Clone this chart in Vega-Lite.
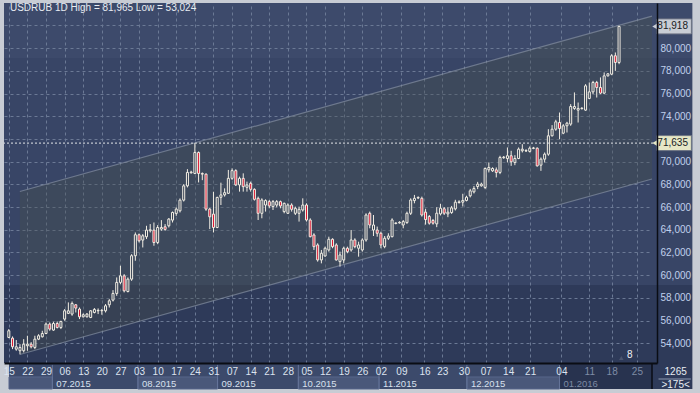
{
  "$schema": "https://vega.github.io/schema/vega-lite/v6.json",
  "width": 653,
  "height": 360,
  "autosize": "none",
  "padding": {"left": 4, "top": 3, "right": 43, "bottom": 30},
  "background": "#c8ccd4",
  "config": {
    "font": "Liberation Sans",
    "view": {
      "stroke": null,
      "fill": {"gradient": "linear", "x1": 0, "y1": 0, "x2": 0, "y2": 1, "stops": [
        {"offset": 0, "color": "#3d4a6b"}, {"offset": 0.153, "color": "#3d4a6b"},
        {"offset": 0.153, "color": "#384566"}, {"offset": 0.783, "color": "#384566"},
        {"offset": 0.783, "color": "#2e3a59"}, {"offset": 1, "color": "#2e3a59"}]}
    }
  },
  "datasets": {
    "candles": [
      {"i":0,"o":54.51,"h":55.25,"l":54.45,"c":55.1},
      {"i":1,"o":54.45,"h":54.6,"l":53.48,"c":53.69},
      {"i":2,"o":53.48,"h":54.28,"l":53.34,"c":53.69},
      {"i":3,"o":53.34,"h":53.92,"l":53.02,"c":53.63},
      {"i":4,"o":53.34,"h":54.36,"l":53.19,"c":53.92},
      {"i":5,"o":53.78,"h":54.66,"l":53.34,"c":53.92},
      {"i":6,"o":53.92,"h":54.1,"l":53.55,"c":53.69},
      {"i":7,"o":53.63,"h":54.66,"l":53.48,"c":54.36},
      {"i":8,"o":54.36,"h":54.8,"l":54.28,"c":54.66},
      {"i":9,"o":54.57,"h":55.1,"l":54.51,"c":54.86},
      {"i":10,"o":54.86,"h":55.83,"l":54.8,"c":55.69},
      {"i":11,"o":55.69,"h":55.83,"l":55.1,"c":55.25},
      {"i":12,"o":55.16,"h":55.89,"l":55.1,"c":55.74},
      {"i":13,"o":55.74,"h":55.92,"l":55.3,"c":55.39},
      {"i":14,"o":55.39,"h":55.98,"l":55.25,"c":55.92},
      {"i":15,"o":56.13,"h":57.01,"l":55.98,"c":56.86},
      {"i":16,"o":56.63,"h":57.6,"l":56.57,"c":56.86},
      {"i":17,"o":56.57,"h":57.68,"l":56.42,"c":57.51},
      {"i":18,"o":57.39,"h":57.45,"l":56.71,"c":57.1},
      {"i":19,"o":57.01,"h":57.15,"l":56.13,"c":56.33},
      {"i":20,"o":56.33,"h":56.63,"l":56.27,"c":56.51},
      {"i":21,"o":56.33,"h":56.66,"l":56.27,"c":56.57},
      {"i":22,"o":56.27,"h":56.92,"l":56.21,"c":56.86},
      {"i":23,"o":56.71,"h":57.1,"l":56.63,"c":56.98},
      {"i":24,"o":56.86,"h":57.07,"l":56.57,"c":56.9},
      {"i":25,"o":56.86,"h":57.01,"l":56.51,"c":56.9},
      {"i":26,"o":56.86,"h":57.45,"l":56.71,"c":57.3},
      {"i":27,"o":57.39,"h":57.89,"l":57.15,"c":57.74},
      {"i":28,"o":57.8,"h":58.68,"l":57.68,"c":58.39},
      {"i":29,"o":58.39,"h":59.8,"l":58.18,"c":59.36},
      {"i":30,"o":59.36,"h":60.83,"l":59.21,"c":59.94},
      {"i":31,"o":59.94,"h":60.09,"l":58.48,"c":58.62},
      {"i":32,"o":58.56,"h":59.8,"l":58.48,"c":59.65},
      {"i":33,"o":59.65,"h":61.85,"l":59.5,"c":61.71},
      {"i":34,"o":61.71,"h":63.76,"l":61.27,"c":63.56},
      {"i":35,"o":63.56,"h":63.67,"l":62.88,"c":63.03},
      {"i":36,"o":63.09,"h":63.62,"l":62.44,"c":63.47},
      {"i":37,"o":63.38,"h":64.35,"l":63.18,"c":63.97},
      {"i":38,"o":63.91,"h":64.5,"l":63.76,"c":64.0},
      {"i":39,"o":63.97,"h":64.64,"l":62.59,"c":62.88},
      {"i":40,"o":62.88,"h":64.41,"l":62.73,"c":64.2},
      {"i":41,"o":64.06,"h":64.85,"l":63.91,"c":64.2},
      {"i":42,"o":64.26,"h":64.5,"l":63.91,"c":64.03},
      {"i":43,"o":64.35,"h":65.03,"l":64.2,"c":64.94},
      {"i":44,"o":64.85,"h":65.61,"l":64.64,"c":65.52},
      {"i":45,"o":65.44,"h":65.97,"l":65.23,"c":65.82},
      {"i":46,"o":65.67,"h":66.76,"l":65.52,"c":66.61},
      {"i":47,"o":66.61,"h":68.02,"l":66.49,"c":67.87},
      {"i":48,"o":67.87,"h":69.34,"l":67.73,"c":69.05},
      {"i":49,"o":69.02,"h":69.2,"l":68.95,"c":69.08},
      {"i":50,"o":68.96,"h":71.635,"l":68.9,"c":70.81},
      {"i":51,"o":70.81,"h":70.9,"l":68.17,"c":68.96},
      {"i":52,"o":68.96,"h":69.05,"l":68.37,"c":68.9},
      {"i":53,"o":68.9,"h":68.96,"l":65.67,"c":65.82},
      {"i":54,"o":65.82,"h":65.91,"l":64.06,"c":65.14},
      {"i":55,"o":65.38,"h":67.35,"l":63.76,"c":64.2},
      {"i":56,"o":64.2,"h":66.91,"l":64.14,"c":66.85},
      {"i":57,"o":66.86,"h":68.15,"l":66.18,"c":67.07},
      {"i":58,"o":67.07,"h":67.65,"l":66.92,"c":67.27},
      {"i":59,"o":67.21,"h":69.27,"l":67.15,"c":68.53},
      {"i":60,"o":68.53,"h":69.41,"l":68.39,"c":69.21},
      {"i":61,"o":69.21,"h":69.33,"l":67.86,"c":67.95},
      {"i":62,"o":67.95,"h":68.68,"l":67.36,"c":68.53},
      {"i":63,"o":68.53,"h":68.97,"l":67.36,"c":67.8},
      {"i":64,"o":67.74,"h":68.24,"l":67.36,"c":67.95},
      {"i":65,"o":68.09,"h":68.24,"l":67.36,"c":67.56},
      {"i":66,"o":67.56,"h":67.65,"l":66.57,"c":66.68},
      {"i":67,"o":66.77,"h":66.92,"l":64.86,"c":65.45},
      {"i":68,"o":65.45,"h":66.77,"l":65.01,"c":66.62},
      {"i":69,"o":66.18,"h":66.68,"l":65.6,"c":66.57},
      {"i":70,"o":66.48,"h":66.62,"l":65.89,"c":66.1},
      {"i":71,"o":66.04,"h":66.62,"l":65.74,"c":66.48},
      {"i":72,"o":66.18,"h":66.62,"l":65.98,"c":66.48},
      {"i":73,"o":66.48,"h":66.57,"l":65.89,"c":66.1},
      {"i":74,"o":65.6,"h":66.39,"l":65.45,"c":66.33},
      {"i":75,"o":65.45,"h":66.33,"l":65.39,"c":66.18},
      {"i":76,"o":66.18,"h":66.33,"l":65.6,"c":65.8},
      {"i":77,"o":65.45,"h":66.04,"l":65.3,"c":65.89},
      {"i":78,"o":65.45,"h":66.04,"l":64.72,"c":65.8},
      {"i":79,"o":65.74,"h":66.77,"l":65.6,"c":66.18},
      {"i":80,"o":66.18,"h":66.33,"l":64.72,"c":64.86},
      {"i":81,"o":64.86,"h":65.01,"l":63.33,"c":63.39},
      {"i":82,"o":63.54,"h":63.69,"l":62.22,"c":62.51},
      {"i":83,"o":62.66,"h":62.81,"l":61.19,"c":61.34},
      {"i":84,"o":61.34,"h":62.22,"l":61.04,"c":61.93},
      {"i":85,"o":61.69,"h":62.51,"l":61.63,"c":62.37},
      {"i":86,"o":62.22,"h":63.39,"l":62.07,"c":63.16},
      {"i":87,"o":63.16,"h":63.25,"l":62.37,"c":62.51},
      {"i":88,"o":62.66,"h":62.81,"l":61.28,"c":61.34},
      {"i":89,"o":61.19,"h":62.07,"l":60.75,"c":61.78},
      {"i":90,"o":61.34,"h":62.51,"l":61.04,"c":62.37},
      {"i":91,"o":62.37,"h":62.51,"l":61.93,"c":62.07},
      {"i":92,"o":62.22,"h":63.98,"l":62.07,"c":63.1},
      {"i":93,"o":63.1,"h":63.25,"l":62.37,"c":62.51},
      {"i":94,"o":62.37,"h":62.95,"l":61.63,"c":62.66},
      {"i":95,"o":62.22,"h":63.25,"l":62.07,"c":63.1},
      {"i":96,"o":63.1,"h":65.45,"l":62.95,"c":65.3},
      {"i":97,"o":65.45,"h":65.6,"l":64.13,"c":64.42},
      {"i":98,"o":63.98,"h":65.3,"l":63.45,"c":64.42},
      {"i":99,"o":63.98,"h":64.28,"l":63.39,"c":63.69},
      {"i":100,"o":63.69,"h":63.83,"l":62.37,"c":62.66},
      {"i":101,"o":62.51,"h":63.45,"l":62.37,"c":63.25},
      {"i":102,"o":63.25,"h":63.69,"l":63.1,"c":63.45},
      {"i":103,"o":63.39,"h":65.01,"l":63.33,"c":64.86},
      {"i":104,"o":64.55,"h":64.65,"l":64.48,"c":64.6},
      {"i":105,"o":64.6,"h":64.75,"l":64.55,"c":64.66},
      {"i":106,"o":64.42,"h":64.86,"l":64.13,"c":64.72},
      {"i":107,"o":64.63,"h":65.6,"l":64.52,"c":65.45},
      {"i":108,"o":65.45,"h":66.77,"l":65.3,"c":66.62},
      {"i":109,"o":66.57,"h":67.07,"l":66.33,"c":66.77},
      {"i":110,"o":66.8,"h":66.95,"l":66.7,"c":66.84},
      {"i":111,"o":66.77,"h":66.92,"l":65.16,"c":65.3},
      {"i":112,"o":65.55,"h":65.85,"l":64.45,"c":64.9},
      {"i":113,"o":65.17,"h":65.3,"l":64.45,"c":64.58},
      {"i":114,"o":64.82,"h":64.95,"l":64.45,"c":64.58},
      {"i":115,"o":64.52,"h":65.99,"l":64.23,"c":65.46},
      {"i":116,"o":65.4,"h":66.29,"l":65.26,"c":65.9},
      {"i":117,"o":65.85,"h":66.0,"l":65.3,"c":65.46},
      {"i":118,"o":65.4,"h":65.99,"l":65.11,"c":65.55},
      {"i":119,"o":65.52,"h":66.1,"l":65.4,"c":65.93},
      {"i":120,"o":65.84,"h":66.64,"l":65.7,"c":66.43},
      {"i":121,"o":66.4,"h":66.6,"l":66.3,"c":66.46},
      {"i":122,"o":66.43,"h":67.17,"l":66.05,"c":66.58},
      {"i":123,"o":66.58,"h":67.0,"l":66.5,"c":66.87},
      {"i":124,"o":66.99,"h":67.6,"l":66.85,"c":67.43},
      {"i":125,"o":67.34,"h":67.85,"l":67.2,"c":67.64},
      {"i":126,"o":67.81,"h":68.22,"l":67.58,"c":68.02},
      {"i":127,"o":67.87,"h":68.15,"l":67.8,"c":68.02},
      {"i":128,"o":67.73,"h":69.49,"l":67.58,"c":69.4},
      {"i":129,"o":69.28,"h":69.93,"l":69.05,"c":69.49},
      {"i":130,"o":69.19,"h":69.5,"l":69.1,"c":69.4},
      {"i":131,"o":69.28,"h":69.49,"l":68.61,"c":69.05},
      {"i":132,"o":69.05,"h":70.52,"l":68.9,"c":70.37},
      {"i":133,"o":70.35,"h":70.5,"l":70.25,"c":70.4},
      {"i":134,"o":70.28,"h":71.25,"l":69.93,"c":70.52},
      {"i":135,"o":70.52,"h":70.96,"l":69.63,"c":69.99},
      {"i":136,"o":69.93,"h":70.57,"l":69.69,"c":70.28},
      {"i":137,"o":70.28,"h":71.25,"l":70.22,"c":71.1},
      {"i":138,"o":70.96,"h":71.54,"l":70.81,"c":71.1},
      {"i":139,"o":70.94,"h":71.1,"l":70.85,"c":70.98},
      {"i":140,"o":70.9,"h":71.34,"l":70.81,"c":71.19},
      {"i":141,"o":71.17,"h":71.3,"l":71.1,"c":71.21},
      {"i":142,"o":71.19,"h":71.25,"l":69.57,"c":69.63},
      {"i":143,"o":69.69,"h":70.37,"l":69.19,"c":70.22},
      {"i":144,"o":70.22,"h":70.81,"l":69.93,"c":70.66},
      {"i":145,"o":70.66,"h":72.86,"l":70.52,"c":72.28},
      {"i":146,"o":72.28,"h":73.22,"l":72.22,"c":72.86},
      {"i":147,"o":72.86,"h":73.69,"l":72.72,"c":73.51},
      {"i":148,"o":73.45,"h":74.33,"l":71.98,"c":72.92},
      {"i":149,"o":72.51,"h":73.31,"l":72.42,"c":73.16},
      {"i":150,"o":73.16,"h":73.51,"l":72.57,"c":73.39},
      {"i":151,"o":73.31,"h":75.07,"l":73.16,"c":74.86},
      {"i":152,"o":74.69,"h":76.1,"l":74.57,"c":74.86},
      {"i":153,"o":74.54,"h":75.21,"l":73.45,"c":74.69},
      {"i":154,"o":74.67,"h":74.8,"l":74.6,"c":74.71},
      {"i":155,"o":74.54,"h":76.83,"l":74.48,"c":76.68},
      {"i":156,"o":75.57,"h":76.98,"l":75.51,"c":76.15},
      {"i":157,"o":76.15,"h":77.12,"l":75.95,"c":76.98},
      {"i":158,"o":76.98,"h":77.12,"l":75.65,"c":76.54},
      {"i":159,"o":76.54,"h":77.42,"l":75.95,"c":76.04},
      {"i":160,"o":76.04,"h":77.86,"l":75.95,"c":77.56},
      {"i":161,"o":77.56,"h":77.8,"l":77.5,"c":77.74},
      {"i":162,"o":77.71,"h":79.47,"l":77.62,"c":79.33},
      {"i":163,"o":79.33,"h":79.62,"l":78.0,"c":78.74},
      {"i":164,"o":78.74,"h":81.965,"l":78.59,"c":81.918}
    ],
    "months": [
      {"m":"","s0":0.05,"s1":11.7},
      {"m":"07.2015","s0":11.7,"s1":34.7},
      {"m":"08.2015","s0":34.7,"s1":56.1},
      {"m":"09.2015","s0":56.1,"s1":77.8},
      {"m":"10.2015","s0":77.8,"s1":99.5},
      {"m":"11.2015","s0":99.5,"s1":123.1},
      {"m":"12.2015","s0":123.1,"s1":148},
      {"m":"01.2016","s0":148,"s1":172.85}
    ],
    "channel": [
      {"s": 2.96, "lo": 53.01, "hi": 67.37},
      {"s": 172.85, "lo": 68.47, "hi": 82.83}
    ],
    "levels": [
      {"v": 81.918, "t": "81,918", "k": "last"},
      {"v": 71.635, "t": "71,635", "k": "level"}
    ]
  },
  "resolve": {"axis": {"x": "independent", "y": "independent"}},
  "layer": [
    {
      "data": {"values": [{}]},
      "mark": {"type": "rect", "clip": false, "fill": {"gradient": "linear", "x1": 0, "y1": 0, "x2": 0, "y2": 1, "stops": [
        {"offset": 0, "color": "#3d4a6b"}, {"offset": 0.1425, "color": "#3d4a6b"},
        {"offset": 0.1425, "color": "#384566"}, {"offset": 0.7306, "color": "#384566"},
        {"offset": 0.7306, "color": "#2e3a59"}, {"offset": 1, "color": "#2e3a59"}]}},
      "encoding": {
        "x": {"datum": 172.85, "type": "quantitative", "scale": {"domain": [0.05, 172.85], "nice": false, "zero": false}, "axis": null},
        "x2": {"datum": 183.7},
        "y": {"datum": 83.98, "type": "quantitative", "scale": {"domain": [52.26, 83.98], "nice": false, "zero": false}, "axis": null},
        "y2": {"datum": 49.97}
      }
    },
    {
      "data": {"values": [{}]},
      "mark": {"type": "rect", "clip": false, "fill": "#3c4a6b"},
      "encoding": {
        "x": {"datum": 0.05, "type": "quantitative", "scale": {"domain": [0.05, 172.85], "nice": false, "zero": false}, "axis": null},
        "x2": {"datum": 172.85},
        "y": {"datum": 52.26, "type": "quantitative", "scale": {"domain": [52.26, 83.98], "nice": false, "zero": false}, "axis": null},
        "y2": {"datum": 49.97}
      }
    },
    {
      "data": {"name": "months"},
      "transform": [{"filter": "indexof(['', '08.2015', '10.2015', '12.2015'], datum.m) >= 0"}],
      "mark": {"type": "rect", "clip": false, "fill": "#4a587a", "stroke": "#56658a", "strokeWidth": 1},
      "encoding": {
        "x": {"field": "s0", "type": "quantitative", "scale": {"domain": [0.05, 172.85], "nice": false, "zero": false}, "axis": null},
        "x2": {"field": "s1"},
        "y": {"datum": 51.03, "type": "quantitative", "scale": {"domain": [52.26, 83.98], "nice": false, "zero": false}, "axis": null},
        "y2": {"datum": 49.97}
      }
    },
    {
      "data": {"name": "months"},
      "transform": [{"filter": "datum.m == '01.2016'"}],
      "mark": {"type": "rect", "clip": false, "fill": "#28334f"},
      "encoding": {
        "x": {"field": "s0", "type": "quantitative", "scale": {"domain": [0.05, 172.85], "nice": false, "zero": false}, "axis": null},
        "x2": {"field": "s1"},
        "y": {"datum": 52.2, "type": "quantitative", "scale": {"domain": [52.26, 83.98], "nice": false, "zero": false}, "axis": null},
        "y2": {"datum": 49.97}
      }
    },
    {
      "data": {"name": "months"},
      "transform": [{"filter": "datum.s0 > 1"}],
      "mark": {"type": "rule", "clip": false, "color": "#66759a", "strokeWidth": 1},
      "encoding": {
        "x": {"field": "s0", "type": "quantitative", "scale": {"domain": [0.05, 172.85], "nice": false, "zero": false}, "axis": null},
        "y": {"datum": 52.1, "type": "quantitative", "scale": {"domain": [52.26, 83.98], "nice": false, "zero": false}, "axis": null},
        "y2": {"datum": 49.97}
      }
    },
    {
      "data": {"name": "months"},
      "mark": {"type": "text", "clip": false, "align": "left", "baseline": "middle", "dx": 4, "fontSize": 9.5},
      "encoding": {
        "x": {"field": "s0", "type": "quantitative", "scale": {"domain": [0.05, 172.85], "nice": false, "zero": false}, "axis": null},
        "y": {"datum": 50.45, "type": "quantitative", "scale": {"domain": [52.26, 83.98], "nice": false, "zero": false}, "axis": null},
        "text": {"field": "m"},
        "color": {"condition": {"test": "datum.m == '01.2016'", "value": "#7d8aa4"}, "value": "#d8e0ee"}
      }
    },
    {
      "data": {"values": [{}]},
      "mark": {"type": "rule", "clip": false, "color": "#0a0d14", "strokeWidth": 1.5},
      "encoding": {
        "x": {"datum": 172.85, "type": "quantitative", "scale": {"domain": [0.05, 172.85], "nice": false, "zero": false}, "axis": null},
        "y": {"datum": 52.26, "type": "quantitative", "scale": {"domain": [52.26, 83.98], "nice": false, "zero": false}, "axis": null},
        "y2": {"datum": 49.97}
      }
    },
    {
      "data": {"name": "channel"},
      "mark": {"type": "area", "color": "#474f4a", "opacity": 0.35},
      "encoding": {
        "x": {"field": "s", "type": "quantitative", "scale": {"domain": [0.05, 172.85], "nice": false, "zero": false},
          "axis": {"orient": "top", "values": [0,5,10,15,20,25,30,35,40,45,50,55,60,65,70,75,80,85,90,95,100,105.5,111.7,116.5,122.3,128.2,134.2,140.1,148.5,156,162,168.8],
            "grid": true, "gridColor": "#6b7995", "gridDash": [3,3], "gridWidth": 1, "labels": false, "ticks": false, "domain": false, "title": null, "zindex": 0}},
        "y": {"field": "lo", "type": "quantitative", "scale": {"domain": [52.26, 83.98], "nice": false, "zero": false},
          "axis": {"orient": "left", "values": [54,56,58,60,62,64,66,68,70,72,74,76,78,80,82],
            "grid": true, "gridColor": "#6b7995", "gridDash": [3,3], "gridWidth": 1, "labels": false, "ticks": false, "domain": false, "title": null, "zindex": 0}},
        "y2": {"field": "hi"}
      }
    },
    {
      "data": {"name": "channel"},
      "mark": {"type": "line", "color": "#8893a6", "strokeWidth": 1.2, "opacity": 0.65},
      "encoding": {
        "x": {"field": "s", "type": "quantitative", "scale": {"domain": [0.05, 172.85], "nice": false, "zero": false}, "axis": null},
        "y": {"field": "hi", "type": "quantitative", "scale": {"domain": [52.26, 83.98], "nice": false, "zero": false}, "axis": null}
      }
    },
    {
      "data": {"name": "channel"},
      "mark": {"type": "line", "color": "#8893a6", "strokeWidth": 1.2, "opacity": 0.65},
      "encoding": {
        "x": {"field": "s", "type": "quantitative", "scale": {"domain": [0.05, 172.85], "nice": false, "zero": false}, "axis": null},
        "y": {"field": "lo", "type": "quantitative", "scale": {"domain": [52.26, 83.98], "nice": false, "zero": false}, "axis": null}
      }
    },
    {
      "data": {"name": "candles"},
      "mark": {"type": "rule", "color": "#f2eee4", "strokeWidth": 1, "clip": true},
      "encoding": {
        "x": {"field": "i", "type": "quantitative", "scale": {"domain": [0.05, 172.85], "nice": false, "zero": false},
          "axis": {"orient": "bottom", "values": [0,5,10,15,20,25,30,35,40,45,50,55,60,65,70,75,80,85,90,95,100,105.5,111.7,116.5,122.3,128.2,134.2,140.1,148.5,156,162,168.8],
            "labelExpr": "['15','22','29','06','13','20','27','03','10','17','24','31','07','14','21','28','05','12','19','26','02','09','16','23','30','07','14','21','04','11','18','25'][indexof([0,5,10,15,20,25,30,35,40,45,50,55,60,65,70,75,80,85,90,95,100,105.5,111.7,116.5,122.3,128.2,134.2,140.1,148.5,156,162,168.8], datum.value)]",
            "labelColor": {"condition": {"test": "datum.value >= 150", "value": "#7f8ca6"}, "value": "#dce3ef"},
            "labelFontSize": 10, "labelPadding": 3, "ticks": false, "grid": false, "domain": true, "domainColor": "#0a0d14", "domainWidth": 2,
            "title": null, "zindex": 1, "labelOverlap": false, "labelFlush": false, "labelBound": false}},
        "y": {"field": "l", "type": "quantitative", "scale": {"domain": [52.26, 83.98], "nice": false, "zero": false},
          "axis": {"orient": "right", "values": [54,56,58,60,62,64,66,68,70,72,74,76,78,80,82],
            "labelExpr": "(datum.value > 81 || datum.value == 72) ? '' : replace(format(datum.value, '.3f'), '.', ',')",
            "labelColor": "#c0d0ec", "labelFontSize": 10, "labelPadding": 3, "ticks": false, "grid": false,
            "domain": true, "domainColor": "#0a0d14", "domainWidth": 1.5, "title": null, "zindex": 1, "labelOverlap": false}},
        "y2": {"field": "h"}
      }
    },
    {
      "data": {"name": "candles"},
      "mark": {"type": "bar", "size": 2, "stroke": "#f2eee4", "strokeWidth": 1, "clip": true},
      "encoding": {
        "x": {"field": "i", "type": "quantitative", "scale": {"domain": [0.05, 172.85], "nice": false, "zero": false}, "axis": null},
        "y": {"field": "o", "type": "quantitative", "scale": {"domain": [52.26, 83.98], "nice": false, "zero": false}, "axis": null},
        "y2": {"field": "c"},
        "fill": {"condition": {"test": "datum.c < datum.o", "value": "#dc1430"}, "value": "#313c4e"}
      }
    },
    {
      "data": {"name": "levels"},
      "transform": [{"filter": "datum.k == 'level'"}],
      "mark": {"type": "rule", "color": "#e4e6ea", "strokeDash": [2,2], "strokeWidth": 1},
      "encoding": {
        "y": {"field": "v", "type": "quantitative", "scale": {"domain": [52.26, 83.98], "nice": false, "zero": false}, "axis": null}
      }
    },
    {
      "data": {"name": "levels"},
      "mark": {"type": "rect", "clip": false, "yOffset": -7.5, "y2Offset": 7.5, "stroke": "#6e7484", "strokeWidth": 1},
      "encoding": {
        "x": {"datum": 174.17, "type": "quantitative", "scale": {"domain": [0.05, 172.85], "nice": false, "zero": false}, "axis": null},
        "x2": {"datum": 183.43},
        "y": {"field": "v", "type": "quantitative", "scale": {"domain": [52.26, 83.98], "nice": false, "zero": false}, "axis": null},
        "y2": {"field": "v"},
        "fill": {"condition": {"test": "datum.k == 'last'", "value": "#c9cdd5"}, "value": "#e6e7c6"}
      }
    },
    {
      "data": {"name": "levels"},
      "mark": {"type": "point", "clip": false, "shape": "triangle-left", "size": 45, "filled": true, "opacity": 1},
      "encoding": {
        "x": {"datum": 173.7, "type": "quantitative", "scale": {"domain": [0.05, 172.85], "nice": false, "zero": false}, "axis": null},
        "y": {"field": "v", "type": "quantitative", "scale": {"domain": [52.26, 83.98], "nice": false, "zero": false}, "axis": null},
        "fill": {"condition": {"test": "datum.k == 'last'", "value": "#c9cdd5"}, "value": "#e6e7c6"}
      }
    },
    {
      "data": {"name": "levels"},
      "mark": {"type": "text", "clip": false, "align": "center", "baseline": "middle", "fontSize": 10, "color": "#1a1c24"},
      "encoding": {
        "x": {"datum": 178.4, "type": "quantitative", "scale": {"domain": [0.05, 172.85], "nice": false, "zero": false}, "axis": null},
        "y": {"field": "v", "type": "quantitative", "scale": {"domain": [52.26, 83.98], "nice": false, "zero": false}, "axis": null},
        "text": {"field": "t"}
      }
    },
    {
      "data": {"values": [{"t": "USDRUB 1D High = 81,965 Low = 53,024"}]},
      "mark": {"type": "text", "clip": false, "align": "left", "baseline": "middle", "fontSize": 10, "color": "#e8ecf2"},
      "encoding": {
        "x": {"datum": 0.31, "type": "quantitative", "scale": {"domain": [0.05, 172.85], "nice": false, "zero": false}, "axis": null},
        "y": {"datum": 83.54, "type": "quantitative", "scale": {"domain": [52.26, 83.98], "nice": false, "zero": false}, "axis": null},
        "text": {"field": "t"}
      }
    },
    {
      "data": {"values": [{"t": "8"}]},
      "mark": {"type": "text", "clip": false, "align": "center", "baseline": "middle", "fontSize": 10, "color": "#eef0f4"},
      "encoding": {
        "x": {"datum": 166.9, "type": "quantitative", "scale": {"domain": [0.05, 172.85], "nice": false, "zero": false}, "axis": null},
        "y": {"datum": 52.97, "type": "quantitative", "scale": {"domain": [52.26, 83.98], "nice": false, "zero": false}, "axis": null},
        "text": {"field": "t"}
      }
    },
    {
      "data": {"values": [{}]},
      "mark": {"type": "point", "clip": false, "shape": "triangle-up", "size": 20, "filled": true, "color": "#4c5670", "opacity": 1},
      "encoding": {
        "x": {"datum": 164.6, "type": "quantitative", "scale": {"domain": [0.05, 172.85], "nice": false, "zero": false}, "axis": null},
        "y": {"datum": 52.7, "type": "quantitative", "scale": {"domain": [52.26, 83.98], "nice": false, "zero": false}, "axis": null}
      }
    },
    {
      "data": {"values": [{}]},
      "mark": {"type": "rule", "clip": false, "color": "#8c98b0", "strokeWidth": 1},
      "encoding": {
        "x": {"datum": 174.6, "type": "quantitative", "scale": {"domain": [0.05, 172.85], "nice": false, "zero": false}, "axis": null},
        "x2": {"datum": 183.3},
        "y": {"datum": 50.85, "type": "quantitative", "scale": {"domain": [52.26, 83.98], "nice": false, "zero": false}, "axis": null}
      }
    },
    {
      "data": {"values": [{"t": "1265", "r": 51.47}, {"t": ">175<", "r": 50.28}]},
      "mark": {"type": "text", "clip": false, "align": "center", "baseline": "middle", "fontSize": 10, "color": "#e8ecf2"},
      "encoding": {
        "x": {"datum": 179.2, "type": "quantitative", "scale": {"domain": [0.05, 172.85], "nice": false, "zero": false}, "axis": null},
        "y": {"field": "r", "type": "quantitative", "scale": {"domain": [52.26, 83.98], "nice": false, "zero": false}, "axis": null},
        "text": {"field": "t"}
      }
    }
  ]
}
